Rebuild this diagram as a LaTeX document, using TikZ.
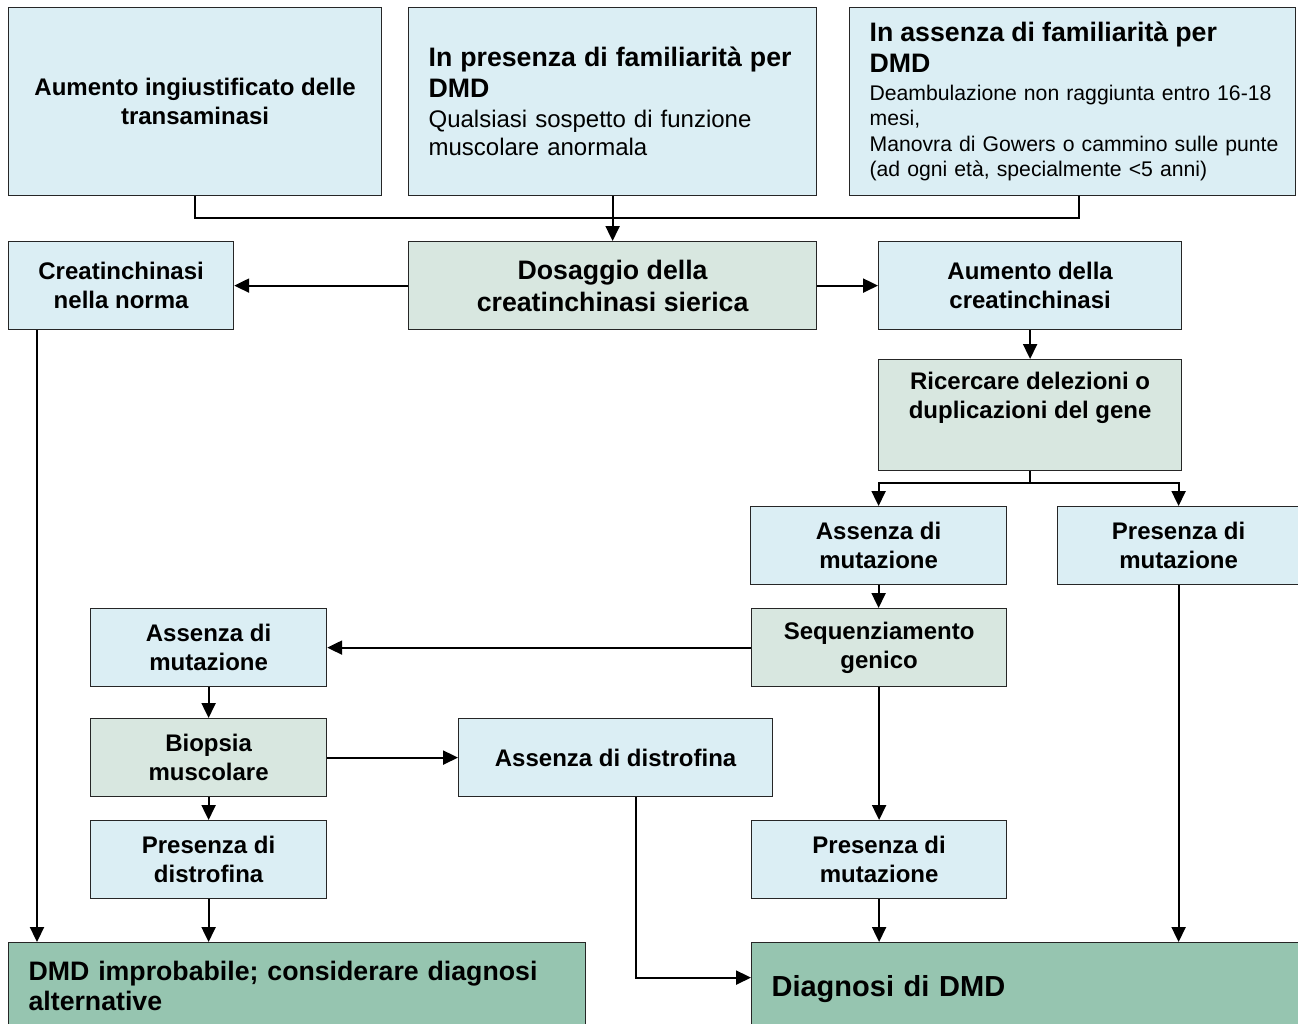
\documentclass[tikz,border=0pt]{standalone}
\usepackage{fontspec}
\setmainfont{Liberation Sans}
\usetikzlibrary{arrows.meta}

\definecolor{azzurro}{HTML}{DBEEF4}
\definecolor{grigioverde}{HTML}{D8E7E0}
\definecolor{verdescuro}{HTML}{96C5B0}

\begin{document}
\begin{tikzpicture}[x=1pt,y=-1pt,
	box/.style={draw=black!85,line width=1.2pt,rectangle,anchor=north west,align=center,inner sep=0pt,
		font=\fontsize{24}{28.5}\selectfont\bfseries},
	chiaro/.style={box,fill=azzurro},
	grigio/.style={box,fill=grigioverde},
	scuro/.style={box,fill=verdescuro,align=left,inner xsep=20pt,
		font=\fontsize{26.7}{30}\selectfont\bfseries},
	testo/.style={align=left,inner xsep=20pt},
	freccia/.style={line width=2.2pt,-{Triangle[length=15pt,width=14pt]}},
	linea/.style={line width=2.2pt}]

\useasboundingbox (0,0) rectangle (1298,1023);

%-------------------------------------------------------------------------------
% Sospetto clinico
%-------------------------------------------------------------------------------
\node (transaminasi) [chiaro,minimum width=373,minimum height=188] at (8,7)
	{Aumento ingiustificato delle\\transaminasi};
\node (familiari) [chiaro,testo,text width=368,minimum height=188,
	font=\fontsize{24}{28}\selectfont] at (408,7)
	{{\fontsize{26.7}{31}\selectfont\bfseries In presenza di familiarità per\\DMD\\[2pt]}Qualsiasi sospetto di funzione\\muscolare anormala};
\node (nonfamiliari) [chiaro,testo,text width=406,minimum height=188,
	font=\fontsize{21.2}{25.5}\selectfont] at (849,7)
	{{\fontsize{26.7}{31.5}\selectfont\bfseries In assenza di familiarità per\\DMD\\[2pt]}\mbox{Deambulazione non raggiunta entro 16-18}\\mesi,\\\mbox{Manovra di Gowers o cammino sulle punte}\\(ad ogni età, specialmente <5 anni)};

\draw [linea] (transaminasi.south) -- ++(0,22) -| ([xshift=6]nonfamiliari.south);

%-------------------------------------------------------------------------------
% Creatinchinasi
%-------------------------------------------------------------------------------
\node (dosaggio) [grigio,minimum width=408,minimum height=88,
	font=\fontsize{26.7}{32}\selectfont\bfseries] at (408,241)
	{Dosaggio della\\creatinchinasi sierica};
\node (norma) [chiaro,minimum width=225,minimum height=88] at (8,241)
	{Creatinchinasi\\nella norma};
\node (aumento) [chiaro,minimum width=303,minimum height=88] at (878,241)
	{Aumento della\\creatinchinasi};

\draw [freccia] (familiari.south) -- (dosaggio.north);
\draw [freccia] (dosaggio.west) -- (norma.east);
\draw [freccia] (dosaggio.east) -- (aumento.west);

%-------------------------------------------------------------------------------
% Analisi genetica
%-------------------------------------------------------------------------------
\node (ricerca) [grigio,minimum width=303,minimum height=111,text depth=40pt] at (878,359)
	{Ricercare delezioni o\\duplicazioni del gene};
\node (assenza1) [chiaro,minimum width=256,minimum height=78] at (750,506)
	{Assenza di\\mutazione};
\node (presenza1) [chiaro,minimum width=242,minimum height=78] at (1057,506)
	{Presenza di\\mutazione};
\node (sequenza) [grigio,minimum width=255,minimum height=78] at (751,608)
	{Sequenziamento\\genico};
\node (presenza2) [chiaro,minimum width=255,minimum height=78] at (751,820)
	{Presenza di\\mutazione};

\draw [freccia] (aumento.south) -- (ricerca.north);
\draw [linea] (ricerca.south) -- ++(0,12) coordinate (bivio);
\draw [freccia] (bivio) -| (assenza1.north);
\draw [freccia] (bivio) -| (presenza1.north);
\draw [freccia] (assenza1.south) -- (assenza1.south |- sequenza.north);
\draw [freccia] (sequenza.south) -- (sequenza.south |- presenza2.north);

%-------------------------------------------------------------------------------
% Biopsia
%-------------------------------------------------------------------------------
\node (assenza2) [chiaro,minimum width=236,minimum height=78] at (90,608)
	{Assenza di\\mutazione};
\node (biopsia) [grigio,minimum width=236,minimum height=78] at (90,718)
	{Biopsia\\muscolare};
\node (nodistro) [chiaro,minimum width=314,minimum height=78] at (458,718)
	{Assenza di distrofina};
\node (sidistro) [chiaro,minimum width=236,minimum height=78] at (90,820)
	{Presenza di\\distrofina};

\draw [freccia] (sequenza.west) -- (assenza2.east);
\draw [freccia] (assenza2.south) -- (biopsia.north);
\draw [freccia] (biopsia.east) -- (nodistro.west);
\draw [freccia] (biopsia.south) -- (sidistro.north);

%-------------------------------------------------------------------------------
% Esito
%-------------------------------------------------------------------------------
\node (improbabile) [scuro,text width=537,minimum height=86] at (8,942)
	{DMD improbabile; considerare diagnosi\\alternative};
\node (diagnosi) [scuro,text width=520,minimum height=92,
	font=\fontsize{29}{34}\selectfont\bfseries] at (751,942)
	{Diagnosi di DMD};

\draw [freccia] ([xshift=29]norma.south west) -- ([xshift=29]improbabile.north west);
\draw [freccia] (sidistro.south) -- (sidistro.south |- improbabile.north);
\draw [freccia] (presenza2.south) -- (presenza2.south |- diagnosi.north);
\draw [freccia] (presenza1.south) -- (presenza1.south |- diagnosi.north);
\draw [freccia] ([xshift=20]nodistro.south) |- ([yshift=11]diagnosi.west);
\end{tikzpicture}
\end{document}
